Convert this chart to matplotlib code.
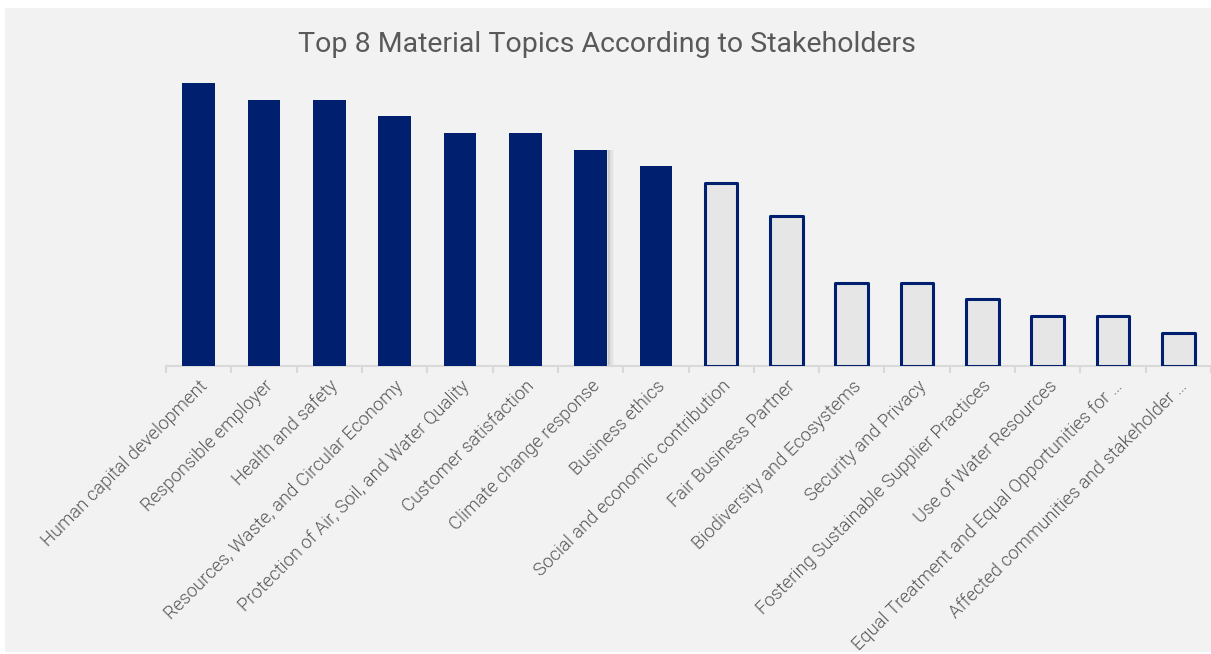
import matplotlib
matplotlib.use("Agg")
import matplotlib.pyplot as plt
from matplotlib.patches import Rectangle
from matplotlib import font_manager as fm

# Topic names and stakeholder scores
topics = [
    "Human capital development",
    "Responsible employer",
    "Health and safety",
    "Resources, Waste, and Circular Economy",
    "Protection of Air, Soil, and Water Quality",
    "Customer satisfaction",
    "Climate change response",
    "Business ethics",
    "Social and economic contribution",
    "Fair Business Partner",
    "Biodiversity and Ecosystems",
    "Security and Privacy",
    "Fostering Sustainable Supplier Practices",
    "Use of Water Resources",
    "Equal Treatment and Equal Opportunities for \u2026",
    "Affected communities and stakeholder \u2026",
]
scores = [17, 16, 16, 15, 14, 14, 13, 12, 11, 9, 5, 5, 4, 3, 3, 2]
top_n = 8

NAVY = "#00206f"
LIGHT = "#e6e6e6"
BG = "#f2f2f2"
TEXT = "#595959"

plt.rcParams["font.family"] = ["Roboto", "DejaVu Sans"]


def roboto_light(size):
    """Pick the Roboto Light face explicitly if it is installed."""
    cands = [f for f in fm.fontManager.ttflist
             if f.name == "Roboto" and f.style == "normal"
             and f.weight in (300, "light")]
    if cands:
        return fm.FontProperties(fname=cands[0].fname, size=size)
    return fm.FontProperties(family="Roboto", weight="normal", size=size)


W, H = 1211, 654
fig = plt.figure(figsize=(W / 100, H / 100), dpi=100, facecolor="white")

# grey chart area with a thin white margin
fig.patches.append(Rectangle((5 / W, 2 / H), (W - 5) / W, (H - 10) / H,
                             transform=fig.transFigure, facecolor=BG,
                             edgecolor="none", zorder=-5))

step = 65.6
x0 = 166
base = 366
unit = 16.65
ymax = 18.5
ax = fig.add_axes([x0 / W, (H - base) / H, (W - x0) / W, ymax * unit / H])
ax.set_facecolor("none")
ax.set_xlim(-0.5, -0.5 + (W - x0) / step)
ax.set_ylim(0, ymax)

xs = list(range(len(topics)))
for i, (x, v) in enumerate(zip(xs, scores)):
    if i < top_n:
        if i == top_n - 2:
            # soft shadow beside the highlighted bar
            for k in range(8):
                ax.bar(x + 0.25 + 0.012 * k, v, width=0.03, bottom=0,
                       color="#000000", alpha=0.07 * (1 - k / 8),
                       align="edge", zorder=1, linewidth=0)
        ax.bar(x, v, width=0.5, color=NAVY, linewidth=0, zorder=3)
    else:
        ax.bar(x, v, width=0.5, color=LIGHT, edgecolor=NAVY,
               linewidth=2.2, joinstyle="round", zorder=3)

for s in ["top", "right", "left"]:
    ax.spines[s].set_visible(False)
ax.spines["bottom"].set_color("#d9d9d9")
ax.spines["bottom"].set_linewidth(1.5)
ax.spines["bottom"].set_zorder(2)
ax.set_yticks([])

ax.set_xticks([x - 0.5 for x in xs] + [len(xs) - 0.5], minor=True)
ax.tick_params(axis="x", which="minor", length=5, width=1.5, color="#d9d9d9")
ax.set_xticks(xs)
ax.tick_params(axis="x", which="major", length=0, pad=8)
ax.set_xticklabels(topics, rotation=45, ha="right", va="top",
                   rotation_mode="anchor", color="#555555",
                   fontproperties=roboto_light(13.2))

fig.text(0.5013, 1 - 45 / H, "Top 8 Material Topics According to Stakeholders",
         ha="center", va="center", fontsize=20.5, color=TEXT)

fig.savefig("out.png", dpi=100, facecolor="white")
